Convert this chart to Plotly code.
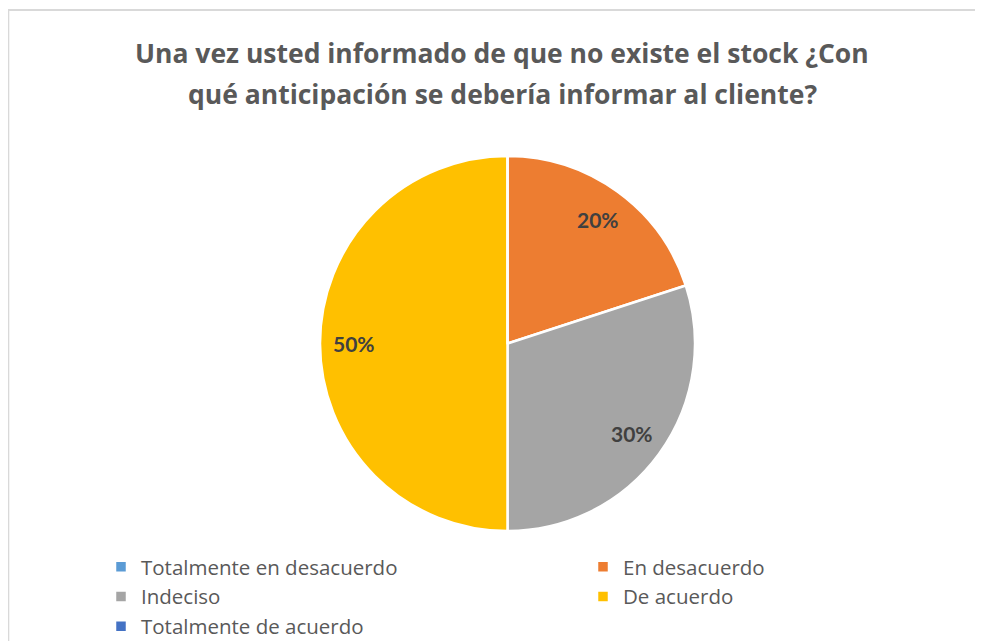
import math
import plotly.graph_objects as go

# The page body has an 8px margin, so the figure is sized to fill the rest of the window
OFF = 8
W, H = 983 - OFF, 641 - OFF

categories = ["Totalmente en desacuerdo", "En desacuerdo", "Indeciso", "De acuerdo", "Totalmente de acuerdo"]
values = [0, 20, 30, 50, 0]
colors = ["#5B9BD5", "#ED7D31", "#A5A5A5", "#FFC000", "#4472C4"]
title_lines = ["Una vez usted informado de que no existe el stock ¿Con",
               "qué anticipación se debería informar al cliente?"]


def fx(px):
    return (px - OFF) / W


def fy(py):
    return 1 - (py - OFF) / H


# pie geometry (window pixels)
px_left, px_right, px_top, px_bottom = 320, 695, 156, 531

fig = go.Figure(go.Pie(
    labels=categories, values=values, sort=False, direction="clockwise", rotation=0,
    marker=dict(colors=colors, line=dict(color="white", width=2.5)),
    textinfo="none", hoverinfo="label+percent",
    domain=dict(x=[fx(px_left), fx(px_right)], y=[fy(px_bottom), fy(px_top)]),
))

# data labels along slice bisectors
cx = (px_left + px_right) / 2
cy = (px_top + px_bottom) / 2
r = (px_right - px_left) / 2
total = sum(values)
cum = 0
annotations = []
for v in values:
    if v > 0:
        mid = (cum + v / 2) / total * 2 * math.pi
        lx = cx + 0.82 * r * math.sin(mid)
        ly = cy - 0.82 * r * math.cos(mid)
        annotations.append(dict(x=fx(lx), y=fy(ly), xref="paper", yref="paper",
                                text=f"<b>{round(v / total * 100)}%</b>", showarrow=False,
                                font=dict(family="Lato", size=21, color="#404040"),
                                xanchor="center", yanchor="middle"))
    cum += v

for i, line in enumerate(title_lines):
    annotations.append(dict(x=fx(502.5), y=fy(52.5 + 41 * i), xref="paper", yref="paper",
                            text=f"<b>{line}</b>", showarrow=False,
                            font=dict(family="Open Sans", size=26.5, color="#595959"),
                            xanchor="center", yanchor="middle"))

shapes = [
    dict(type="line", xref="paper", yref="paper", x0=fx(7.5), x1=1.01, y0=fy(10), y1=fy(10),
         line=dict(color="#D9D9D9", width=2)),
    dict(type="line", xref="paper", yref="paper", x0=fx(8.3), x1=fx(8.3), y0=fy(10), y1=-0.01,
         line=dict(color="#D9D9D9", width=2)),
]

fig.update_layout(
    width=W, height=H, margin=dict(l=0, r=0, t=0, b=0, autoexpand=False),
    paper_bgcolor="white", plot_bgcolor="white",
    annotations=annotations, shapes=shapes,
    showlegend=True,
    legend=dict(orientation="h", x=fx(101), y=fy(547), xanchor="left", yanchor="top",
                entrywidth=437, entrywidthmode="pixels",
                font=dict(family="Open Sans", size=20.5, color="#595959"),
                itemclick=False, itemdoubleclick=False, traceorder="normal"),
)

fig.write_html("out.html")
